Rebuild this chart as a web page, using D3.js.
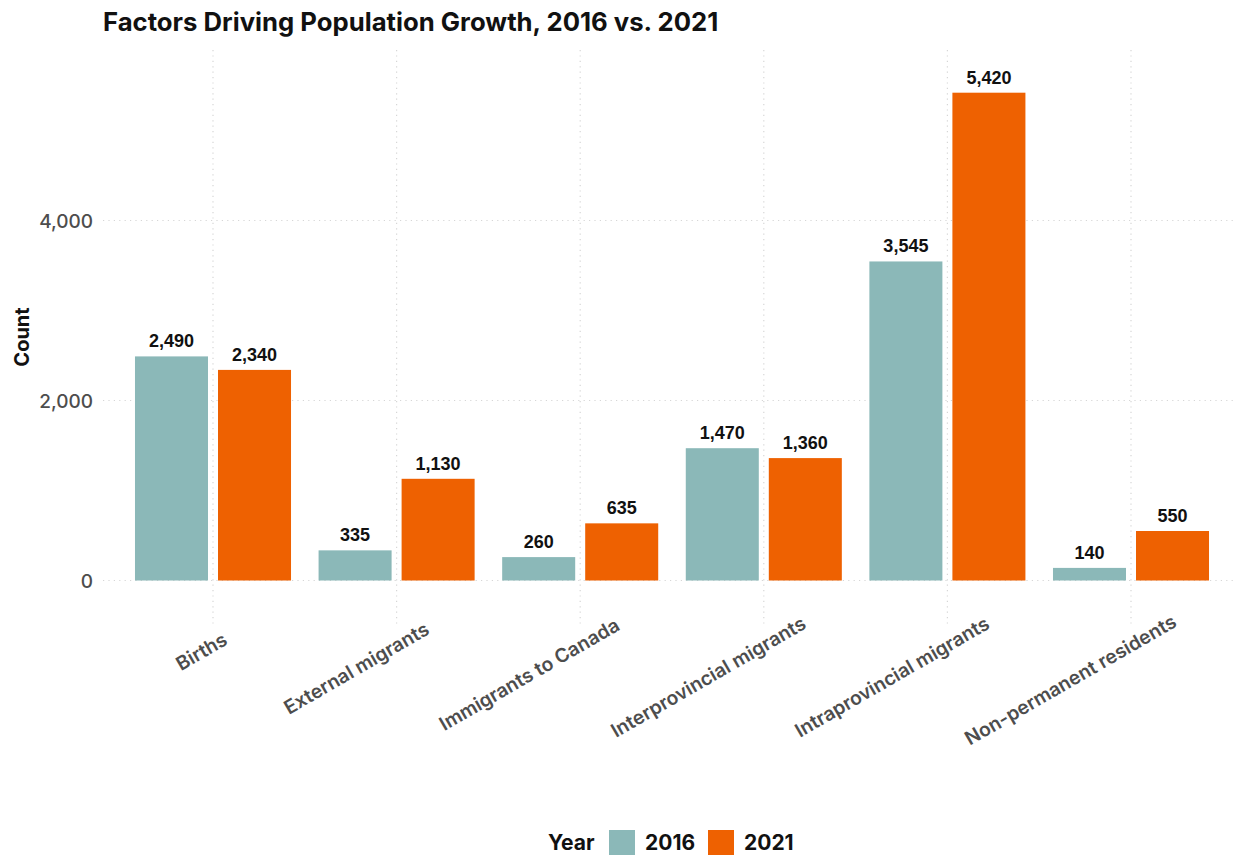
<!DOCTYPE html>
<html><head><meta charset="utf-8">
<script src="https://cdn.jsdelivr.net/npm/d3@7"></script>
<style>
body{margin:0;background:#fff;}
svg{display:block;}
</style></head>
<body>
<svg id="chart" width="1241" height="855"></svg>
<script>
const categories = ["Births","External migrants","Immigrants to Canada","Interprovincial migrants","Intraprovincial migrants","Non-permanent residents"];
const years = ["2016","2021"];
const values2016 = [2490, 335, 260, 1470, 3545, 140];
const values2021 = [2340, 1130, 635, 1360, 5420, 550];
const yTicks = [0, 2000, 4000];
const colors = {"2016":"#8bb8b8","2021":"#ee6101"};

const data = categories.map((c,i)=>({cat:c, vals:[{year:"2016",v:values2016[i]},{year:"2021",v:values2021[i]}]}));

const svg = d3.select("#chart");
const panelLeft = 103, panelRight = 1236, panelTop = 50, panelBottom = 627;
const UI = "Inter, 'Noto Sans', sans-serif";

const x = d3.scaleBand().domain(categories).range([121.2, 1222.8]).padding(0);
const xi = d3.scaleBand().domain(years).range([0, x.bandwidth()]).paddingInner(0.1205).paddingOuter(0.166);
const y = d3.scaleLinear().domain([0, 4000]).range([580.5, 220.5]);

const grid = svg.append("g");
grid.selectAll("line.h").data(yTicks).join("line")
  .attr("x1", panelLeft).attr("x2", panelRight)
  .attr("y1", d=>y(d)).attr("y2", d=>y(d))
  .attr("stroke","#d6d6d6").attr("stroke-width",1.2).attr("stroke-dasharray","1.2,4.2");
grid.selectAll("line.v").data(categories).join("line")
  .attr("y1", panelTop).attr("y2", panelBottom)
  .attr("x1", d=>x(d)+x.bandwidth()/2).attr("x2", d=>x(d)+x.bandwidth()/2)
  .attr("stroke","#d6d6d6").attr("stroke-width",1.2).attr("stroke-dasharray","1.2,4.2");

const groups = svg.append("g").selectAll("g").data(data).join("g")
  .attr("transform", d=>`translate(${x(d.cat)},0)`);
groups.selectAll("rect").data(d=>d.vals).join("rect")
  .attr("x", d=>xi(d.year)).attr("width", xi.bandwidth())
  .attr("y", d=>y(d.v)).attr("height", d=>y(0)-y(d.v))
  .attr("fill", d=>colors[d.year]);
groups.selectAll("text").data(d=>d.vals).join("text")
  .attr("x", d=>xi(d.year)+xi.bandwidth()/2)
  .attr("y", d=>y(d.v)-9)
  .attr("text-anchor","middle")
  .attr("font-family","Liberation Sans, Arial, sans-serif")
  .attr("font-weight","bold").attr("font-size",18).attr("fill","#111")
  .text(d=>d3.format(",")(d.v));

// Y axis
const yAxis = d3.axisLeft(y).tickValues(yTicks).tickFormat(d3.format(",")).tickSize(0).tickPadding(0);
const ya = svg.append("g").attr("transform","translate(93,0)").call(yAxis);
ya.select(".domain").remove();
ya.selectAll("text").attr("font-family",UI).attr("font-weight",500).attr("font-size",19).attr("fill","#4d4d4d").attr("dy","0.36em");

// X axis
const xAxis = d3.axisBottom(x).tickSize(0).tickPadding(0);
const xa = svg.append("g").call(xAxis);
xa.select(".domain").remove();
xa.selectAll(".tick").each(function(d){
  const g = d3.select(this);
  const cx = x(d)+x.bandwidth()/2;
  g.attr("transform",`translate(${cx+6.5},649) rotate(-30)`);
  const t = g.select("text").attr("y",0).attr("dy",0)
    .attr("font-family",UI).attr("font-weight",600)
    .attr("font-size",19.3).attr("fill","#4d4d4d").attr("text-anchor","end");
  const L = t.node().getComputedTextLength();
  t.attr("x", 0.194*L);
});

// Axis title
svg.append("text").attr("transform","translate(29,337) rotate(-90)")
  .attr("text-anchor","middle").attr("font-family",UI)
  .attr("font-weight","bold").attr("font-size",20).attr("fill","#111").text("Count");

// Title
svg.append("text").attr("x",103).attr("y",31)
  .attr("font-family",UI).attr("font-weight","bold")
  .attr("font-size",25.7).attr("fill","#111")
  .text("Factors Driving Population Growth, 2016 vs. 2021");

// Legend
const leg = svg.append("g");
leg.append("text").attr("x",548).attr("y",850).attr("font-family",UI)
  .attr("font-weight","bold").attr("font-size",21).attr("fill","#111").text("Year");
const legX = [609, 708];
years.forEach((yr,i)=>{
  leg.append("rect").attr("x",legX[i]).attr("y",830).attr("width",26).attr("height",26).attr("fill",colors[yr]);
  leg.append("text").attr("x",legX[i]+36).attr("y",850).attr("font-family",UI)
    .attr("font-weight","bold").attr("font-size",21).attr("fill","#111").text(yr);
});
</script>
</body></html>
